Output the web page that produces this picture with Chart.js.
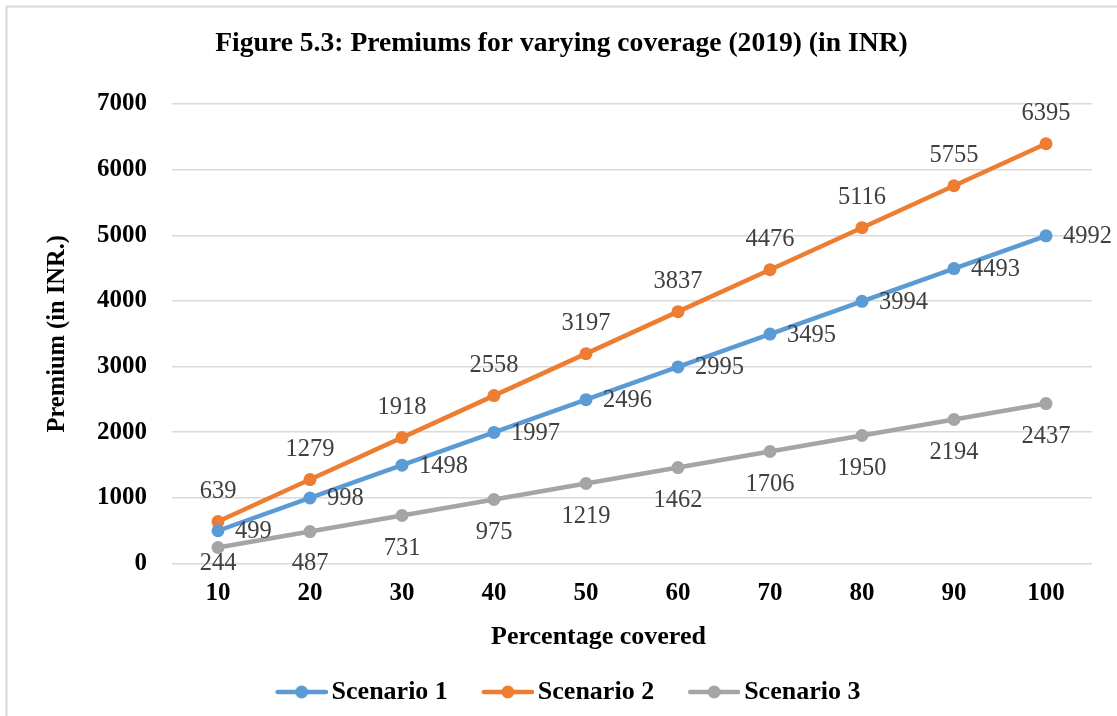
<!DOCTYPE html>
<html>
<head>
<meta charset="utf-8">
<script src="https://cdn.jsdelivr.net/npm/chart.js@4.4.1/dist/chart.umd.min.js"></script>
<style>
  html, body { margin: 0; padding: 0; background: #ffffff; }
  #wrap { width: 1117px; height: 716px; }
</style>
</head>
<body>
<div id="wrap"><canvas id="c" width="1117" height="716"></canvas></div>
<script>
// ---- data ----
const categories = [10, 20, 30, 40, 50, 60, 70, 80, 90, 100];
const scenario1 = [499, 998, 1498, 1997, 2496, 2995, 3495, 3994, 4493, 4992];
const scenario2 = [639, 1279, 1918, 2558, 3197, 3837, 4476, 5116, 5755, 6395];
const scenario3 = [244, 487, 731, 975, 1219, 1462, 1706, 1950, 2194, 2437];
const seriesNames = ['Scenario 1', 'Scenario 2', 'Scenario 3'];
const titleText = 'Figure 5.3: Premiums for varying coverage (2019) (in INR)';
const xTitleText = 'Percentage covered';
const yTitleText = 'Premium (in INR.)';

const SERIF = '"Liberation Serif", "Times New Roman", serif';
const colors = ['#5B9BD5', '#ED7D31', '#A5A5A5'];
const labelPos = ['right', 'above', 'below'];

// legend icons: line with a circle marker
const LEG_B = 56, LEG_W = LEG_B + 18, LEG_H = 16;
function makeIcon(color) {
  const cv = document.createElement('canvas');
  cv.width = LEG_W; cv.height = LEG_H;
  const g = cv.getContext('2d');
  g.strokeStyle = color; g.lineWidth = 4.5; g.lineCap = 'round';
  g.beginPath(); g.moveTo(LEG_W - 52 + 2, LEG_H / 2); g.lineTo(LEG_W - 2, LEG_H / 2); g.stroke();
  g.fillStyle = color;
  g.beginPath(); g.arc(LEG_W - 26, LEG_H / 2, 6.5, 0, Math.PI * 2); g.fill();
  return cv;
}
const legendIcons = colors.map(makeIcon);

const extrasPlugin = {
  id: 'extras',
  beforeDraw(chart) {
    const ctx = chart.ctx;
    ctx.save();
    ctx.fillStyle = '#ffffff';
    ctx.fillRect(0, 0, chart.width, chart.height);
    ctx.strokeStyle = '#d9d9d9';
    ctx.lineWidth = 2;
    ctx.beginPath();
    ctx.moveTo(6.5, chart.height); ctx.lineTo(6.5, 6.5); ctx.lineTo(chart.width, 6.5);
    ctx.stroke();
    ctx.restore();
  },
  afterDatasetsDraw(chart) {
    const ctx = chart.ctx;
    const area = chart.chartArea;
    ctx.save();
    ctx.font = '24.5px ' + SERIF;
    ctx.fillStyle = '#404040';
    ctx.textBaseline = 'middle';
    chart.data.datasets.forEach((ds, di) => {
      const meta = chart.getDatasetMeta(di);
      meta.data.forEach((pt, i) => {
        const txt = String(ds.data[i]);
        const pos = labelPos[di];
        if (pos === 'right') {
          ctx.textAlign = 'left';
          ctx.fillText(txt, pt.x + 17, pt.y + 1);
        } else if (pos === 'above') {
          ctx.textAlign = 'center';
          ctx.fillText(txt, pt.x, pt.y - 30);
        } else {
          ctx.textAlign = 'center';
          ctx.fillText(txt, pt.x, Math.min(pt.y + 33, area.bottom));
        }
      });
    });
    // x axis title
    ctx.font = 'bold 26px ' + SERIF;
    ctx.fillStyle = '#000000';
    ctx.textAlign = 'center';
    ctx.fillText(xTitleText, 598.5, 637);
    ctx.restore();
  }
};

const datasets = [scenario1, scenario2, scenario3].map((vals, i) => ({
  label: seriesNames[i],
  data: vals,
  borderColor: colors[i],
  backgroundColor: colors[i],
  borderWidth: 4.5,
  pointRadius: 6.5,
  pointBorderWidth: 0,
  pointHoverRadius: 6.5,
  pointBackgroundColor: colors[i],
  tension: 0,
  clip: false
}));

new Chart(document.getElementById('c'), {
  type: 'line',
  data: { labels: categories, datasets },
  plugins: [extrasPlugin],
  options: {
    responsive: false,
    animation: false,
    devicePixelRatio: 1,
    layout: { padding: { left: 31, right: 25, top: 8, bottom: 1 } },
    plugins: {
      title: {
        display: true,
        text: titleText,
        color: '#000000',
        font: { family: SERIF, size: 27.6, weight: 'bold' },
        padding: { top: 19.5, bottom: 43.4 }
      },
      legend: {
        position: 'bottom',
        labels: {
          usePointStyle: true,
          pointStyleWidth: LEG_B,
          padding: 21,
          color: '#000000',
          font: { family: SERIF, size: 26, weight: 'bold' },
          generateLabels(chart) {
            const items = Chart.defaults.plugins.legend.labels.generateLabels(chart);
            items.forEach((it, i) => { it.pointStyle = legendIcons[i]; });
            return items;
          }
        }
      },
      tooltip: { enabled: false }
    },
    scales: {
      x: {
        offset: true,
        grid: { display: false, drawTicks: false },
        border: { display: false },
        ticks: {
          padding: 15,
          color: '#000000',
          font: { family: SERIF, size: 25, weight: 'bold' }
        },
        afterFit(scale) { scale.height = 94.5; }
      },
      y: {
        min: 0,
        max: 7000,
        ticks: {
          stepSize: 1000,
          padding: 25,
          color: '#000000',
          font: { family: SERIF, size: 25, weight: 'bold' },
          callback: (v) => String(v)
        },
        grid: { color: '#d9d9d9', lineWidth: 1.5, drawTicks: false },
        border: { display: false },
        title: {
          display: true,
          text: yTitleText,
          color: '#000000',
          font: { family: SERIF, size: 24.5, weight: 'bold' },
          padding: { top: 12.3, bottom: 0 }
        },
        afterFit(scale) { scale.width = 141; }
      }
    }
  }
});
</script>
</body>
</html>
